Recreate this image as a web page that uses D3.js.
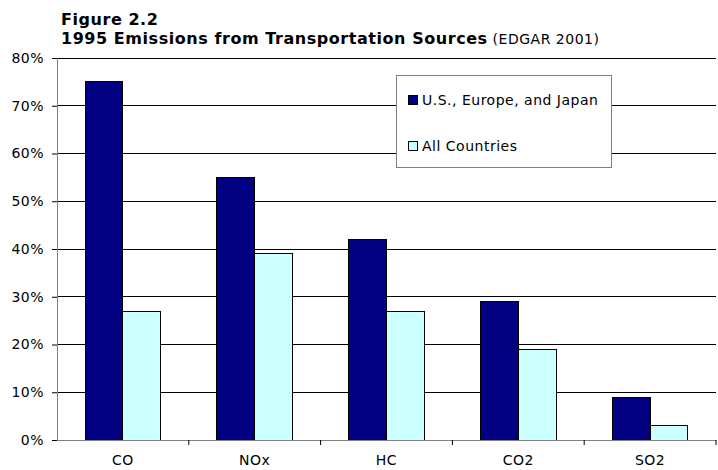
<!DOCTYPE html>
<html>
<head>
<meta charset="utf-8">
<script src="https://cdn.jsdelivr.net/npm/d3@7"></script>
<style>
  body { margin: 0; background: #fff; }
  svg { display: block; font-family: "DejaVu Sans", Verdana, sans-serif; }
</style>
</head>
<body>
<svg id="chart" width="718" height="470"></svg>
<script>
// Figure 2.2 - grouped bars, emissions share from transportation

const categories = ['CO', 'NOx', 'HC', 'CO2', 'SO2'];
const seriesNames = ['U.S., Europe, and Japan', 'All Countries'];
const usEuJapan = [75, 55, 42, 29, 9];
const allCountries = [27, 39, 27, 19, 3];
const yTicks = [0, 10, 20, 30, 40, 50, 60, 70, 80];

const colors = ['#000080', '#CCFFFF'];

const svg = d3.select('#chart');
const plot = {left: 57, right: 716, top: 58, bottom: 440};

const x = d3.scaleBand().domain(categories).range([plot.left, plot.right]);
const x1 = d3.scaleBand().domain(seriesNames).range([0, x.bandwidth()]).paddingOuter(0.74);
const y = d3.scaleLinear().domain([0, 80]).range([plot.bottom, plot.top]);

// gridlines
svg.append('g')
  .selectAll('line')
  .data(yTicks.filter(d => d > 0))
  .join('line')
  .attr('x1', plot.left).attr('x2', plot.right)
  .attr('y1', d => y(d)).attr('y2', d => y(d))
  .attr('stroke', '#000').attr('stroke-width', 1)
  .attr('shape-rendering', 'crispEdges');

// bars
const data = categories.map((c, i) => ({cat: c, vals: [usEuJapan[i], allCountries[i]]}));
svg.append('g')
  .selectAll('g')
  .data(data)
  .join('g')
  .attr('transform', d => `translate(${x(d.cat)},0)`)
  .selectAll('rect')
  .data(d => d.vals.map((v, j) => ({name: seriesNames[j], v, j})))
  .join('rect')
  .attr('x', d => x1(d.name))
  .attr('width', x1.bandwidth())
  .attr('y', d => y(d.v))
  .attr('height', d => y(0) - y(d.v))
  .attr('fill', d => colors[d.j])
  .attr('stroke', '#000').attr('stroke-width', 1)
  .attr('shape-rendering', 'crispEdges');

// y axis
const yAxis = svg.append('g')
  .attr('transform', `translate(${plot.left},0)`)
  .call(d3.axisLeft(y).tickValues(yTicks).tickFormat(d => d + '%').tickSize(5).tickPadding(8));
yAxis.select('.domain').attr('stroke', '#808080');
yAxis.selectAll('.tick line').attr('stroke', '#000');
yAxis.selectAll('text')
  .attr('font-size', 14).attr('letter-spacing', 0.5)
  .attr('font-family', 'DejaVu Sans').attr('fill', '#000');

// x axis
const xAxis = svg.append('g')
  .attr('transform', `translate(0,${plot.bottom})`)
  .call(d3.axisBottom(x).tickSize(0).tickPadding(15));
xAxis.select('.domain').attr('stroke', '#808080');
xAxis.selectAll('text')
  .attr('font-size', 14).attr('letter-spacing', 0.5)
  .attr('font-family', 'DejaVu Sans').attr('fill', '#000');
// category separators
svg.append('g')
  .selectAll('line')
  .data(categories.slice(1).concat(['end']))
  .join('line')
  .attr('x1', d => d === 'end' ? plot.right : x(d))
  .attr('x2', d => d === 'end' ? plot.right : x(d))
  .attr('y1', plot.bottom).attr('y2', plot.bottom + 5)
  .attr('stroke', '#000');

// title
const title = svg.append('g').attr('font-family', 'DejaVu Sans');
title.append('text')
  .attr('x', 61).attr('y', 25)
  .attr('font-size', 16).attr('font-weight', 'bold').attr('letter-spacing', 0.55)
  .text('Figure 2.2');
const t2 = title.append('text').attr('x', 61).attr('y', 44);
t2.append('tspan').attr('font-size', 16).attr('font-weight', 'bold').attr('letter-spacing', 0.55)
  .text('1995 Emissions from Transportation Sources');
t2.append('tspan').attr('font-size', 14).attr('letter-spacing', 0.5).text(' (EDGAR 2001)');

// legend
const legend = svg.append('g').attr('transform', 'translate(396,75)');
legend.append('rect')
  .attr('width', 215).attr('height', 92)
  .attr('fill', '#fff').attr('stroke', '#808080')
  .attr('shape-rendering', 'crispEdges');
seriesNames.forEach((name, i) => {
  const row = legend.append('g').attr('transform', `translate(12,${20 + i * 46})`);
  row.append('rect')
    .attr('width', 9).attr('height', 9)
    .attr('fill', colors[i]).attr('stroke', '#000')
    .attr('shape-rendering', 'crispEdges');
  row.append('text')
    .attr('x', 14).attr('y', 10)
    .attr('font-size', 14).attr('letter-spacing', 0.5)
    .text(name);
});
</script>
</body>
</html>
